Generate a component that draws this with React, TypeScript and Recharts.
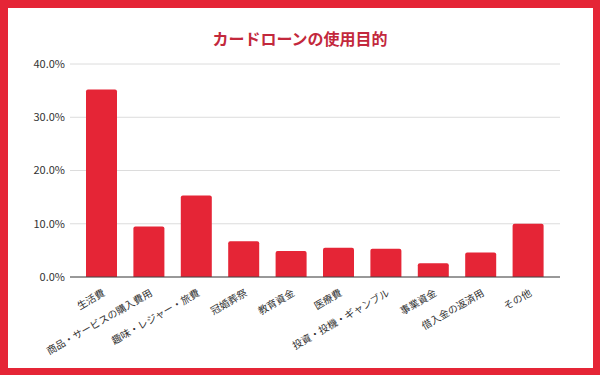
import React from "react";
import { BarChart, Bar, XAxis, YAxis, CartesianGrid } from "recharts";

const categories = [
  "生活費",
  "商品・サービスの購入費用",
  "趣味・レジャー・旅費",
  "冠婚葬祭",
  "教育資金",
  "医療費",
  "投資・投機・ギャンブル",
  "事業資金",
  "借入金の返済用",
  "その他",
];
const values = [35.2, 9.5, 15.3, 6.7, 4.9, 5.5, 5.3, 2.6, 4.6, 10.0];
const yTicks = [0, 10, 20, 30, 40];

const data = categories.map((name, i) => ({ name, value: values[i] }));

const FONT = "'Noto Sans CJK JP', 'Noto Sans', sans-serif";
const RED = "#e52536";

const XTick = (props: any) => {
  const { x, y, payload } = props;
  return (
    <text
      x={x + 4}
      y={y + 10}
      transform={`rotate(-30, ${x + 4}, ${y + 10})`}
      textAnchor="end"
      fontSize={10}
      fill="#333"
      fontFamily={FONT}
    >
      {payload.value}
    </text>
  );
};

export default function App() {
  return (
    <div
      style={{
        position: "fixed",
        left: 0,
        top: 0,
        width: 600,
        height: 375,
        background: RED,
      }}
    >
      <div
        style={{
          position: "absolute",
          left: 8,
          top: 8,
          width: 585,
          height: 360,
          background: "#fff",
        }}
      />
      <div
        style={{
          position: "absolute",
          left: 0,
          top: 27,
          width: 600,
          textAlign: "center",
          fontFamily: FONT,
          fontWeight: 700,
          fontSize: 16,
          lineHeight: "22px",
          color: "#c3283c",
        }}
      >
        カードローンの使用目的
      </div>
      <div style={{ position: "absolute", left: 0, top: 0 }}>
        <BarChart
          width={600}
          height={375}
          data={data}
          margin={{ top: 64, right: 40, bottom: 0, left: 0 }}
          barSize={31}
        >
          <CartesianGrid vertical={false} stroke="#dcdcdc" strokeWidth={1} />
          <XAxis
            dataKey="name"
            interval={0}
            height={98}
            padding={{ left: 8, right: 8 }}
            tickLine={false}
            axisLine={{ stroke: "#444" }}
            tick={<XTick />}
          />
          <YAxis
            width={70}
            domain={[0, 40]}
            ticks={yTicks}
            axisLine={false}
            tickLine={false}
            tickSize={5}
            tickMargin={0}
            tickFormatter={(v: number) => `${v.toFixed(1)}%`}
            tick={{ fontSize: 11, fill: "#333", fontFamily: FONT }}
          />
          <Bar dataKey="value" fill={RED} radius={[2, 2, 0, 0]} isAnimationActive={false} />
        </BarChart>
      </div>
    </div>
  );
}
